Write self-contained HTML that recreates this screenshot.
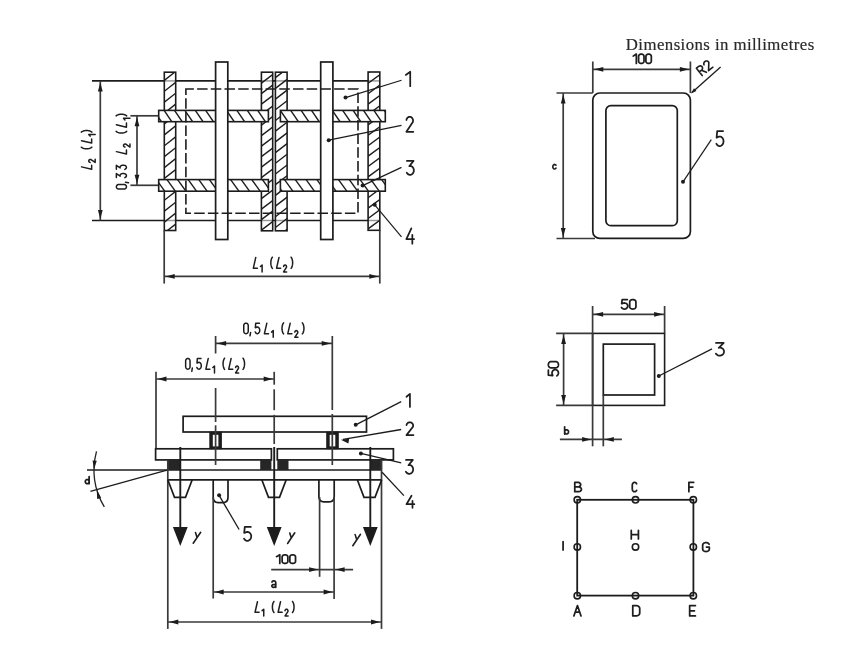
<!DOCTYPE html>
<html><head><meta charset="utf-8"><style>html,body{margin:0;padding:0;background:#fff;width:863px;height:645px;overflow:hidden}svg{display:block;filter:blur(0.45px)}</style></head>
<body><svg width="863" height="645" viewBox="0 0 863 645"><defs><clipPath id="p1"><rect x="164.3" y="72.2" width="11.399999999999977" height="158.3"/></clipPath><clipPath id="p2"><rect x="261.4" y="72.2" width="11.300000000000011" height="158.60000000000002"/></clipPath><clipPath id="p3"><rect x="275.4" y="72.2" width="11.700000000000045" height="158.60000000000002"/></clipPath><clipPath id="p4"><rect x="368.1" y="72" width="11.699999999999989" height="158.3"/></clipPath><clipPath id="blu"><rect x="158.7" y="110.4" width="109.69999999999999" height="11.299999999999997"/></clipPath><clipPath id="bru"><rect x="280.4" y="110.4" width="104.90000000000003" height="11.299999999999997"/></clipPath><clipPath id="bll"><rect x="158.7" y="179.6" width="109.69999999999999" height="11.599999999999994"/></clipPath><clipPath id="brl"><rect x="280.4" y="179.6" width="104.90000000000003" height="11.599999999999994"/></clipPath></defs><rect width="863" height="645" fill="#fff"/><line x1="92.00" y1="80.90" x2="368.00" y2="80.90" stroke="#1c1c1c" stroke-width="1.7" />
<line x1="92.00" y1="220.50" x2="368.00" y2="220.50" stroke="#1c1c1c" stroke-width="1.7" />
<rect x="164.3" y="72.2" width="11.399999999999977" height="158.3" fill="#fff"/>
<g clip-path="url(#p1)">
<line x1="164.30" y1="47.70" x2="175.70" y2="38.70" stroke="#1c1c1c" stroke-width="1.4" />
<line x1="164.30" y1="58.60" x2="175.70" y2="49.60" stroke="#1c1c1c" stroke-width="1.4" />
<line x1="164.30" y1="69.50" x2="175.70" y2="60.50" stroke="#1c1c1c" stroke-width="1.4" />
<line x1="164.30" y1="80.40" x2="175.70" y2="71.40" stroke="#1c1c1c" stroke-width="1.4" />
<line x1="164.30" y1="91.30" x2="175.70" y2="82.30" stroke="#1c1c1c" stroke-width="1.4" />
<line x1="164.30" y1="102.20" x2="175.70" y2="93.20" stroke="#1c1c1c" stroke-width="1.4" />
<line x1="164.30" y1="113.10" x2="175.70" y2="104.10" stroke="#1c1c1c" stroke-width="1.4" />
<line x1="164.30" y1="124.00" x2="175.70" y2="115.00" stroke="#1c1c1c" stroke-width="1.4" />
<line x1="164.30" y1="134.90" x2="175.70" y2="125.90" stroke="#1c1c1c" stroke-width="1.4" />
<line x1="164.30" y1="145.80" x2="175.70" y2="136.80" stroke="#1c1c1c" stroke-width="1.4" />
<line x1="164.30" y1="156.70" x2="175.70" y2="147.70" stroke="#1c1c1c" stroke-width="1.4" />
<line x1="164.30" y1="167.60" x2="175.70" y2="158.60" stroke="#1c1c1c" stroke-width="1.4" />
<line x1="164.30" y1="178.50" x2="175.70" y2="169.50" stroke="#1c1c1c" stroke-width="1.4" />
<line x1="164.30" y1="189.40" x2="175.70" y2="180.40" stroke="#1c1c1c" stroke-width="1.4" />
<line x1="164.30" y1="200.30" x2="175.70" y2="191.30" stroke="#1c1c1c" stroke-width="1.4" />
<line x1="164.30" y1="211.20" x2="175.70" y2="202.20" stroke="#1c1c1c" stroke-width="1.4" />
<line x1="164.30" y1="222.10" x2="175.70" y2="213.10" stroke="#1c1c1c" stroke-width="1.4" />
<line x1="164.30" y1="233.00" x2="175.70" y2="224.00" stroke="#1c1c1c" stroke-width="1.4" />
<line x1="164.30" y1="243.90" x2="175.70" y2="234.90" stroke="#1c1c1c" stroke-width="1.4" />
</g>
<rect x="164.30" y="72.20" width="11.40" height="158.30" rx="0" fill="none" stroke="#1c1c1c" stroke-width="1.6" />
<rect x="261.4" y="72.2" width="11.300000000000011" height="158.60000000000002" fill="#fff"/>
<g clip-path="url(#p2)">
<line x1="261.40" y1="41.20" x2="272.70" y2="32.60" stroke="#1c1c1c" stroke-width="1.4" />
<line x1="261.40" y1="51.70" x2="272.70" y2="43.10" stroke="#1c1c1c" stroke-width="1.4" />
<line x1="261.40" y1="62.20" x2="272.70" y2="53.60" stroke="#1c1c1c" stroke-width="1.4" />
<line x1="261.40" y1="72.70" x2="272.70" y2="64.10" stroke="#1c1c1c" stroke-width="1.4" />
<line x1="261.40" y1="83.20" x2="272.70" y2="74.60" stroke="#1c1c1c" stroke-width="1.4" />
<line x1="261.40" y1="93.70" x2="272.70" y2="85.10" stroke="#1c1c1c" stroke-width="1.4" />
<line x1="261.40" y1="104.20" x2="272.70" y2="95.60" stroke="#1c1c1c" stroke-width="1.4" />
<line x1="261.40" y1="114.70" x2="272.70" y2="106.10" stroke="#1c1c1c" stroke-width="1.4" />
<line x1="261.40" y1="125.20" x2="272.70" y2="116.60" stroke="#1c1c1c" stroke-width="1.4" />
<line x1="261.40" y1="135.70" x2="272.70" y2="127.10" stroke="#1c1c1c" stroke-width="1.4" />
<line x1="261.40" y1="146.20" x2="272.70" y2="137.60" stroke="#1c1c1c" stroke-width="1.4" />
<line x1="261.40" y1="156.70" x2="272.70" y2="148.10" stroke="#1c1c1c" stroke-width="1.4" />
<line x1="261.40" y1="167.20" x2="272.70" y2="158.60" stroke="#1c1c1c" stroke-width="1.4" />
<line x1="261.40" y1="177.70" x2="272.70" y2="169.10" stroke="#1c1c1c" stroke-width="1.4" />
<line x1="261.40" y1="188.20" x2="272.70" y2="179.60" stroke="#1c1c1c" stroke-width="1.4" />
<line x1="261.40" y1="198.70" x2="272.70" y2="190.10" stroke="#1c1c1c" stroke-width="1.4" />
<line x1="261.40" y1="209.20" x2="272.70" y2="200.60" stroke="#1c1c1c" stroke-width="1.4" />
<line x1="261.40" y1="219.70" x2="272.70" y2="211.10" stroke="#1c1c1c" stroke-width="1.4" />
<line x1="261.40" y1="230.20" x2="272.70" y2="221.60" stroke="#1c1c1c" stroke-width="1.4" />
<line x1="261.40" y1="240.70" x2="272.70" y2="232.10" stroke="#1c1c1c" stroke-width="1.4" />
<line x1="261.40" y1="251.20" x2="272.70" y2="242.60" stroke="#1c1c1c" stroke-width="1.4" />
</g>
<rect x="261.40" y="72.20" width="11.30" height="158.60" rx="0" fill="none" stroke="#1c1c1c" stroke-width="1.6" />
<rect x="275.4" y="72.2" width="11.700000000000045" height="158.60000000000002" fill="#fff"/>
<g clip-path="url(#p3)">
<line x1="275.40" y1="45.60" x2="287.10" y2="36.60" stroke="#1c1c1c" stroke-width="1.4" />
<line x1="275.40" y1="56.30" x2="287.10" y2="47.30" stroke="#1c1c1c" stroke-width="1.4" />
<line x1="275.40" y1="67.00" x2="287.10" y2="58.00" stroke="#1c1c1c" stroke-width="1.4" />
<line x1="275.40" y1="77.70" x2="287.10" y2="68.70" stroke="#1c1c1c" stroke-width="1.4" />
<line x1="275.40" y1="88.40" x2="287.10" y2="79.40" stroke="#1c1c1c" stroke-width="1.4" />
<line x1="275.40" y1="99.10" x2="287.10" y2="90.10" stroke="#1c1c1c" stroke-width="1.4" />
<line x1="275.40" y1="109.80" x2="287.10" y2="100.80" stroke="#1c1c1c" stroke-width="1.4" />
<line x1="275.40" y1="120.50" x2="287.10" y2="111.50" stroke="#1c1c1c" stroke-width="1.4" />
<line x1="275.40" y1="131.20" x2="287.10" y2="122.20" stroke="#1c1c1c" stroke-width="1.4" />
<line x1="275.40" y1="141.90" x2="287.10" y2="132.90" stroke="#1c1c1c" stroke-width="1.4" />
<line x1="275.40" y1="152.60" x2="287.10" y2="143.60" stroke="#1c1c1c" stroke-width="1.4" />
<line x1="275.40" y1="163.30" x2="287.10" y2="154.30" stroke="#1c1c1c" stroke-width="1.4" />
<line x1="275.40" y1="174.00" x2="287.10" y2="165.00" stroke="#1c1c1c" stroke-width="1.4" />
<line x1="275.40" y1="184.70" x2="287.10" y2="175.70" stroke="#1c1c1c" stroke-width="1.4" />
<line x1="275.40" y1="195.40" x2="287.10" y2="186.40" stroke="#1c1c1c" stroke-width="1.4" />
<line x1="275.40" y1="206.10" x2="287.10" y2="197.10" stroke="#1c1c1c" stroke-width="1.4" />
<line x1="275.40" y1="216.80" x2="287.10" y2="207.80" stroke="#1c1c1c" stroke-width="1.4" />
<line x1="275.40" y1="227.50" x2="287.10" y2="218.50" stroke="#1c1c1c" stroke-width="1.4" />
<line x1="275.40" y1="238.20" x2="287.10" y2="229.20" stroke="#1c1c1c" stroke-width="1.4" />
<line x1="275.40" y1="248.90" x2="287.10" y2="239.90" stroke="#1c1c1c" stroke-width="1.4" />
</g>
<rect x="275.40" y="72.20" width="11.70" height="158.60" rx="0" fill="none" stroke="#1c1c1c" stroke-width="1.6" />
<rect x="368.1" y="72" width="11.699999999999989" height="158.3" fill="#fff"/>
<g clip-path="url(#p4)">
<line x1="368.10" y1="41.70" x2="379.80" y2="33.10" stroke="#1c1c1c" stroke-width="1.4" />
<line x1="368.10" y1="52.10" x2="379.80" y2="43.50" stroke="#1c1c1c" stroke-width="1.4" />
<line x1="368.10" y1="62.50" x2="379.80" y2="53.90" stroke="#1c1c1c" stroke-width="1.4" />
<line x1="368.10" y1="72.90" x2="379.80" y2="64.30" stroke="#1c1c1c" stroke-width="1.4" />
<line x1="368.10" y1="83.30" x2="379.80" y2="74.70" stroke="#1c1c1c" stroke-width="1.4" />
<line x1="368.10" y1="93.70" x2="379.80" y2="85.10" stroke="#1c1c1c" stroke-width="1.4" />
<line x1="368.10" y1="104.10" x2="379.80" y2="95.50" stroke="#1c1c1c" stroke-width="1.4" />
<line x1="368.10" y1="114.50" x2="379.80" y2="105.90" stroke="#1c1c1c" stroke-width="1.4" />
<line x1="368.10" y1="124.90" x2="379.80" y2="116.30" stroke="#1c1c1c" stroke-width="1.4" />
<line x1="368.10" y1="135.30" x2="379.80" y2="126.70" stroke="#1c1c1c" stroke-width="1.4" />
<line x1="368.10" y1="145.70" x2="379.80" y2="137.10" stroke="#1c1c1c" stroke-width="1.4" />
<line x1="368.10" y1="156.10" x2="379.80" y2="147.50" stroke="#1c1c1c" stroke-width="1.4" />
<line x1="368.10" y1="166.50" x2="379.80" y2="157.90" stroke="#1c1c1c" stroke-width="1.4" />
<line x1="368.10" y1="176.90" x2="379.80" y2="168.30" stroke="#1c1c1c" stroke-width="1.4" />
<line x1="368.10" y1="187.30" x2="379.80" y2="178.70" stroke="#1c1c1c" stroke-width="1.4" />
<line x1="368.10" y1="197.70" x2="379.80" y2="189.10" stroke="#1c1c1c" stroke-width="1.4" />
<line x1="368.10" y1="208.10" x2="379.80" y2="199.50" stroke="#1c1c1c" stroke-width="1.4" />
<line x1="368.10" y1="218.50" x2="379.80" y2="209.90" stroke="#1c1c1c" stroke-width="1.4" />
<line x1="368.10" y1="228.90" x2="379.80" y2="220.30" stroke="#1c1c1c" stroke-width="1.4" />
<line x1="368.10" y1="239.30" x2="379.80" y2="230.70" stroke="#1c1c1c" stroke-width="1.4" />
<line x1="368.10" y1="249.70" x2="379.80" y2="241.10" stroke="#1c1c1c" stroke-width="1.4" />
</g>
<rect x="368.10" y="72.00" width="11.70" height="158.30" rx="0" fill="none" stroke="#1c1c1c" stroke-width="1.6" />
<rect x="158.7" y="110.4" width="109.69999999999999" height="11.299999999999997" fill="#fff"/>
<g clip-path="url(#blu)">
<line x1="132.90" y1="110.40" x2="140.60" y2="121.70" stroke="#1c1c1c" stroke-width="1.4" />
<line x1="143.30" y1="110.40" x2="151.00" y2="121.70" stroke="#1c1c1c" stroke-width="1.4" />
<line x1="153.70" y1="110.40" x2="161.40" y2="121.70" stroke="#1c1c1c" stroke-width="1.4" />
<line x1="164.10" y1="110.40" x2="171.80" y2="121.70" stroke="#1c1c1c" stroke-width="1.4" />
<line x1="174.50" y1="110.40" x2="182.20" y2="121.70" stroke="#1c1c1c" stroke-width="1.4" />
<line x1="184.90" y1="110.40" x2="192.60" y2="121.70" stroke="#1c1c1c" stroke-width="1.4" />
<line x1="195.30" y1="110.40" x2="203.00" y2="121.70" stroke="#1c1c1c" stroke-width="1.4" />
<line x1="205.70" y1="110.40" x2="213.40" y2="121.70" stroke="#1c1c1c" stroke-width="1.4" />
<line x1="216.10" y1="110.40" x2="223.80" y2="121.70" stroke="#1c1c1c" stroke-width="1.4" />
<line x1="226.50" y1="110.40" x2="234.20" y2="121.70" stroke="#1c1c1c" stroke-width="1.4" />
<line x1="236.90" y1="110.40" x2="244.60" y2="121.70" stroke="#1c1c1c" stroke-width="1.4" />
<line x1="247.30" y1="110.40" x2="255.00" y2="121.70" stroke="#1c1c1c" stroke-width="1.4" />
<line x1="257.70" y1="110.40" x2="265.40" y2="121.70" stroke="#1c1c1c" stroke-width="1.4" />
<line x1="268.10" y1="110.40" x2="275.80" y2="121.70" stroke="#1c1c1c" stroke-width="1.4" />
<line x1="278.50" y1="110.40" x2="286.20" y2="121.70" stroke="#1c1c1c" stroke-width="1.4" />
</g>
<rect x="158.70" y="110.40" width="109.70" height="11.30" rx="0" fill="none" stroke="#1c1c1c" stroke-width="1.6" />
<rect x="280.4" y="110.4" width="104.90000000000003" height="11.299999999999997" fill="#fff"/>
<g clip-path="url(#bru)">
<line x1="259.50" y1="110.40" x2="267.20" y2="121.70" stroke="#1c1c1c" stroke-width="1.4" />
<line x1="269.90" y1="110.40" x2="277.60" y2="121.70" stroke="#1c1c1c" stroke-width="1.4" />
<line x1="280.30" y1="110.40" x2="288.00" y2="121.70" stroke="#1c1c1c" stroke-width="1.4" />
<line x1="290.70" y1="110.40" x2="298.40" y2="121.70" stroke="#1c1c1c" stroke-width="1.4" />
<line x1="301.10" y1="110.40" x2="308.80" y2="121.70" stroke="#1c1c1c" stroke-width="1.4" />
<line x1="311.50" y1="110.40" x2="319.20" y2="121.70" stroke="#1c1c1c" stroke-width="1.4" />
<line x1="321.90" y1="110.40" x2="329.60" y2="121.70" stroke="#1c1c1c" stroke-width="1.4" />
<line x1="332.30" y1="110.40" x2="340.00" y2="121.70" stroke="#1c1c1c" stroke-width="1.4" />
<line x1="342.70" y1="110.40" x2="350.40" y2="121.70" stroke="#1c1c1c" stroke-width="1.4" />
<line x1="353.10" y1="110.40" x2="360.80" y2="121.70" stroke="#1c1c1c" stroke-width="1.4" />
<line x1="363.50" y1="110.40" x2="371.20" y2="121.70" stroke="#1c1c1c" stroke-width="1.4" />
<line x1="373.90" y1="110.40" x2="381.60" y2="121.70" stroke="#1c1c1c" stroke-width="1.4" />
<line x1="384.30" y1="110.40" x2="392.00" y2="121.70" stroke="#1c1c1c" stroke-width="1.4" />
<line x1="394.70" y1="110.40" x2="402.40" y2="121.70" stroke="#1c1c1c" stroke-width="1.4" />
</g>
<rect x="280.40" y="110.40" width="104.90" height="11.30" rx="0" fill="none" stroke="#1c1c1c" stroke-width="1.6" />
<rect x="158.7" y="179.6" width="109.69999999999999" height="11.599999999999994" fill="#fff"/>
<g clip-path="url(#bll)">
<line x1="135.20" y1="179.60" x2="143.50" y2="191.20" stroke="#1c1c1c" stroke-width="1.4" />
<line x1="145.80" y1="179.60" x2="154.10" y2="191.20" stroke="#1c1c1c" stroke-width="1.4" />
<line x1="156.40" y1="179.60" x2="164.70" y2="191.20" stroke="#1c1c1c" stroke-width="1.4" />
<line x1="167.00" y1="179.60" x2="175.30" y2="191.20" stroke="#1c1c1c" stroke-width="1.4" />
<line x1="177.60" y1="179.60" x2="185.90" y2="191.20" stroke="#1c1c1c" stroke-width="1.4" />
<line x1="188.20" y1="179.60" x2="196.50" y2="191.20" stroke="#1c1c1c" stroke-width="1.4" />
<line x1="198.80" y1="179.60" x2="207.10" y2="191.20" stroke="#1c1c1c" stroke-width="1.4" />
<line x1="209.40" y1="179.60" x2="217.70" y2="191.20" stroke="#1c1c1c" stroke-width="1.4" />
<line x1="220.00" y1="179.60" x2="228.30" y2="191.20" stroke="#1c1c1c" stroke-width="1.4" />
<line x1="230.60" y1="179.60" x2="238.90" y2="191.20" stroke="#1c1c1c" stroke-width="1.4" />
<line x1="241.20" y1="179.60" x2="249.50" y2="191.20" stroke="#1c1c1c" stroke-width="1.4" />
<line x1="251.80" y1="179.60" x2="260.10" y2="191.20" stroke="#1c1c1c" stroke-width="1.4" />
<line x1="262.40" y1="179.60" x2="270.70" y2="191.20" stroke="#1c1c1c" stroke-width="1.4" />
<line x1="273.00" y1="179.60" x2="281.30" y2="191.20" stroke="#1c1c1c" stroke-width="1.4" />
</g>
<rect x="158.70" y="179.60" width="109.70" height="11.60" rx="0" fill="none" stroke="#1c1c1c" stroke-width="1.6" />
<rect x="280.4" y="179.6" width="104.90000000000003" height="11.599999999999994" fill="#fff"/>
<g clip-path="url(#brl)">
<line x1="252.10" y1="179.60" x2="260.40" y2="191.20" stroke="#1c1c1c" stroke-width="1.4" />
<line x1="262.90" y1="179.60" x2="271.20" y2="191.20" stroke="#1c1c1c" stroke-width="1.4" />
<line x1="273.70" y1="179.60" x2="282.00" y2="191.20" stroke="#1c1c1c" stroke-width="1.4" />
<line x1="284.50" y1="179.60" x2="292.80" y2="191.20" stroke="#1c1c1c" stroke-width="1.4" />
<line x1="295.30" y1="179.60" x2="303.60" y2="191.20" stroke="#1c1c1c" stroke-width="1.4" />
<line x1="306.10" y1="179.60" x2="314.40" y2="191.20" stroke="#1c1c1c" stroke-width="1.4" />
<line x1="316.90" y1="179.60" x2="325.20" y2="191.20" stroke="#1c1c1c" stroke-width="1.4" />
<line x1="327.70" y1="179.60" x2="336.00" y2="191.20" stroke="#1c1c1c" stroke-width="1.4" />
<line x1="338.50" y1="179.60" x2="346.80" y2="191.20" stroke="#1c1c1c" stroke-width="1.4" />
<line x1="349.30" y1="179.60" x2="357.60" y2="191.20" stroke="#1c1c1c" stroke-width="1.4" />
<line x1="360.10" y1="179.60" x2="368.40" y2="191.20" stroke="#1c1c1c" stroke-width="1.4" />
<line x1="370.90" y1="179.60" x2="379.20" y2="191.20" stroke="#1c1c1c" stroke-width="1.4" />
<line x1="381.70" y1="179.60" x2="390.00" y2="191.20" stroke="#1c1c1c" stroke-width="1.4" />
<line x1="392.50" y1="179.60" x2="400.80" y2="191.20" stroke="#1c1c1c" stroke-width="1.4" />
</g>
<rect x="280.40" y="179.60" width="104.90" height="11.60" rx="0" fill="none" stroke="#1c1c1c" stroke-width="1.6" />
<line x1="164.30" y1="80.90" x2="176.00" y2="80.90" stroke="#1c1c1c" stroke-width="1.5" opacity="0.45"/>
<line x1="164.30" y1="220.50" x2="176.00" y2="220.50" stroke="#1c1c1c" stroke-width="1.5" opacity="0.45"/>
<line x1="261.60" y1="80.90" x2="272.70" y2="80.90" stroke="#1c1c1c" stroke-width="1.5" opacity="0.45"/>
<line x1="261.60" y1="220.50" x2="272.70" y2="220.50" stroke="#1c1c1c" stroke-width="1.5" opacity="0.45"/>
<line x1="275.20" y1="80.90" x2="287.20" y2="80.90" stroke="#1c1c1c" stroke-width="1.5" opacity="0.45"/>
<line x1="275.20" y1="220.50" x2="287.20" y2="220.50" stroke="#1c1c1c" stroke-width="1.5" opacity="0.45"/>
<line x1="368.00" y1="80.90" x2="380.00" y2="80.90" stroke="#1c1c1c" stroke-width="1.5" opacity="0.45"/>
<line x1="368.00" y1="220.50" x2="380.00" y2="220.50" stroke="#1c1c1c" stroke-width="1.5" opacity="0.45"/>
<rect x="215.60" y="62.00" width="12.20" height="177.50" rx="0" fill="#fff" stroke="#1c1c1c" stroke-width="1.7" />
<rect x="320.70" y="62.00" width="12.20" height="177.50" rx="0" fill="#fff" stroke="#1c1c1c" stroke-width="1.7" />
<rect x="185.9" y="89" width="172.1" height="124.19999999999999" fill="none" stroke="#1c1c1c" stroke-width="1.6" stroke-dasharray="10.5 3.2" stroke-dashoffset="2.5"/>
<line x1="100.30" y1="81.00" x2="100.30" y2="220.50" stroke="#3a3a3a" stroke-width="1.7" />
<polygon points="100.30,82.50 102.70,91.50 97.90,91.50" fill="#1c1c1c" stroke="none" stroke-width="0"/>
<polygon points="100.30,219.00 97.90,210.00 102.70,210.00" fill="#1c1c1c" stroke="none" stroke-width="0"/>
<line x1="137.00" y1="115.80" x2="137.00" y2="185.30" stroke="#3a3a3a" stroke-width="1.7" />
<polygon points="137.00,117.20 139.40,126.20 134.60,126.20" fill="#1c1c1c" stroke="none" stroke-width="0"/>
<polygon points="137.00,183.80 134.60,174.80 139.40,174.80" fill="#1c1c1c" stroke="none" stroke-width="0"/>
<line x1="130.40" y1="115.80" x2="158.00" y2="115.80" stroke="#3a3a3a" stroke-width="1.7" />
<line x1="130.40" y1="185.30" x2="158.00" y2="185.30" stroke="#3a3a3a" stroke-width="1.7" />
<line x1="164.20" y1="230.50" x2="164.20" y2="283.60" stroke="#3a3a3a" stroke-width="1.7" />
<line x1="379.80" y1="230.30" x2="379.80" y2="283.60" stroke="#3a3a3a" stroke-width="1.7" />
<line x1="164.20" y1="276.40" x2="379.80" y2="276.40" stroke="#3a3a3a" stroke-width="1.7" />
<polygon points="165.70,276.40 174.70,274.00 174.70,278.80" fill="#1c1c1c" stroke="none" stroke-width="0"/>
<polygon points="378.30,276.40 369.30,278.80 369.30,274.00" fill="#1c1c1c" stroke="none" stroke-width="0"/>
<line x1="345.50" y1="97.60" x2="401.50" y2="80.30" stroke="#1c1c1c" stroke-width="1.2" />
<circle cx="345.5" cy="97.6" r="2.0" fill="#1c1c1c"/>
<line x1="328.70" y1="140.20" x2="401.50" y2="125.30" stroke="#1c1c1c" stroke-width="1.2" />
<circle cx="328.7" cy="140.2" r="2.0" fill="#1c1c1c"/>
<line x1="362.60" y1="185.60" x2="401.50" y2="167.40" stroke="#1c1c1c" stroke-width="1.2" />
<circle cx="362.6" cy="185.6" r="2.0" fill="#1c1c1c"/>
<line x1="374.70" y1="204.80" x2="401.50" y2="236.90" stroke="#1c1c1c" stroke-width="1.2" />
<circle cx="374.7" cy="204.8" r="2.0" fill="#1c1c1c"/>
<line x1="215.60" y1="343.40" x2="332.20" y2="343.40" stroke="#3a3a3a" stroke-width="1.7" />
<polygon points="217.10,343.40 226.10,341.00 226.10,345.80" fill="#1c1c1c" stroke="none" stroke-width="0"/>
<polygon points="330.70,343.40 321.70,345.80 321.70,341.00" fill="#1c1c1c" stroke="none" stroke-width="0"/>
<line x1="156.00" y1="379.00" x2="274.20" y2="379.00" stroke="#3a3a3a" stroke-width="1.7" />
<polygon points="157.50,379.00 166.50,376.60 166.50,381.40" fill="#1c1c1c" stroke="none" stroke-width="0"/>
<polygon points="272.70,379.00 263.70,381.40 263.70,376.60" fill="#1c1c1c" stroke="none" stroke-width="0"/>
<line x1="156.00" y1="371.70" x2="156.00" y2="449.00" stroke="#3a3a3a" stroke-width="1.7" />
<line x1="215.60" y1="336.00" x2="215.60" y2="353.50" stroke="#3a3a3a" stroke-width="1.7" />
<line x1="332.30" y1="336.00" x2="332.30" y2="410.00" stroke="#3a3a3a" stroke-width="1.7" />
<line x1="274.20" y1="371.80" x2="274.20" y2="384.70" stroke="#3a3a3a" stroke-width="1.7" />
<rect x="183.10" y="416.30" width="183.40" height="15.70" rx="0" fill="none" stroke="#1c1c1c" stroke-width="1.7" />
<rect x="155.60" y="448.80" width="115.80" height="11.10" rx="0" fill="none" stroke="#1c1c1c" stroke-width="1.7" />
<rect x="277.30" y="448.80" width="116.10" height="11.10" rx="0" fill="none" stroke="#1c1c1c" stroke-width="1.7" />
<line x1="87.00" y1="470.00" x2="382.00" y2="470.00" stroke="#1c1c1c" stroke-width="1.7" />
<line x1="167.80" y1="479.80" x2="382.00" y2="479.80" stroke="#1c1c1c" stroke-width="1.7" />
<rect x="167.8" y="459.9" width="12.5" height="10.1" fill="#262626"/>
<rect x="260.2" y="459.9" width="11.199999999999989" height="10.1" fill="#262626"/>
<rect x="277.3" y="459.9" width="11.199999999999989" height="10.1" fill="#262626"/>
<rect x="370.3" y="459.9" width="11.800000000000011" height="10.1" fill="#262626"/>
<rect x="209.3" y="431.7" width="12.6" height="17.5" fill="#1c1c1c"/>
<rect x="212.8" y="434.8" width="5.6" height="11.6" fill="#fff"/>
<rect x="326.2" y="431.7" width="12.6" height="17.5" fill="#1c1c1c"/>
<rect x="329.7" y="434.8" width="5.6" height="11.6" fill="#fff"/>
<line x1="215.60" y1="388.00" x2="215.60" y2="422.00" stroke="#3a3a3a" stroke-width="1.7" />
<line x1="215.60" y1="425.30" x2="215.60" y2="465.00" stroke="#3a3a3a" stroke-width="1.7" />
<line x1="332.30" y1="414.00" x2="332.30" y2="465.00" stroke="#3a3a3a" stroke-width="1.7" />
<line x1="274.20" y1="389.30" x2="274.20" y2="410.20" stroke="#3a3a3a" stroke-width="1.7" />
<line x1="274.20" y1="414.90" x2="274.20" y2="444.00" stroke="#3a3a3a" stroke-width="1.7" />
<line x1="167.80" y1="459.90" x2="167.80" y2="628.90" stroke="#3a3a3a" stroke-width="1.7" />
<line x1="381.50" y1="459.90" x2="381.50" y2="628.90" stroke="#3a3a3a" stroke-width="1.7" />
<line x1="180.30" y1="447.00" x2="180.30" y2="528.00" stroke="#1c1c1c" stroke-width="1.9" />
<polygon points="172.90,527.00 187.70,527.00 180.30,546.00" fill="#1c1c1c" stroke="none" stroke-width="0"/>
<line x1="274.20" y1="447.00" x2="274.20" y2="528.00" stroke="#1c1c1c" stroke-width="1.9" />
<polygon points="266.80,527.00 281.60,527.00 274.20,546.00" fill="#1c1c1c" stroke="none" stroke-width="0"/>
<line x1="370.30" y1="447.00" x2="370.30" y2="528.00" stroke="#1c1c1c" stroke-width="1.9" />
<polygon points="362.90,527.00 377.70,527.00 370.30,546.00" fill="#1c1c1c" stroke="none" stroke-width="0"/>
<polyline points="167.8,479.8 174.5,497.4 185.5,497.4 192.2,479.8" fill="none" stroke="#1c1c1c" stroke-width="1.7"/>
<polyline points="261.8,479.8 268.5,497.4 279.5,497.4 286.2,479.8" fill="none" stroke="#1c1c1c" stroke-width="1.7"/>
<polyline points="357.3,479.8 364.0,497.4 375.0,497.4 381.7,479.8" fill="none" stroke="#1c1c1c" stroke-width="1.7"/>
<path d="M213.2,479.8 V497.6 Q213.2,502.6 218.2,502.6 H223 Q228,502.6 228,497.6 V479.8" fill="none" stroke="#1c1c1c" stroke-width="1.7"/>
<path d="M318.9,479.8 V496.8 Q318.9,501.8 323.9,501.8 H329.2 Q334.2,501.8 334.2,496.8 V479.8" fill="none" stroke="#1c1c1c" stroke-width="1.7"/>
<line x1="213.20" y1="497.00" x2="213.20" y2="598.50" stroke="#3a3a3a" stroke-width="1.7" />
<line x1="319.60" y1="497.00" x2="319.60" y2="576.80" stroke="#3a3a3a" stroke-width="1.7" />
<line x1="334.10" y1="497.00" x2="334.10" y2="599.00" stroke="#3a3a3a" stroke-width="1.7" />
<line x1="271.20" y1="569.60" x2="353.10" y2="569.60" stroke="#3a3a3a" stroke-width="1.7" />
<polygon points="318.10,569.60 309.10,572.00 309.10,567.20" fill="#1c1c1c" stroke="none" stroke-width="0"/>
<polygon points="335.60,569.60 344.60,567.20 344.60,572.00" fill="#1c1c1c" stroke="none" stroke-width="0"/>
<line x1="213.20" y1="592.00" x2="334.10" y2="592.00" stroke="#3a3a3a" stroke-width="1.7" />
<polygon points="214.70,592.00 223.70,589.60 223.70,594.40" fill="#1c1c1c" stroke="none" stroke-width="0"/>
<polygon points="332.60,592.00 323.60,594.40 323.60,589.60" fill="#1c1c1c" stroke="none" stroke-width="0"/>
<line x1="167.80" y1="622.00" x2="381.50" y2="622.00" stroke="#3a3a3a" stroke-width="1.7" />
<polygon points="169.30,622.00 178.30,619.60 178.30,624.40" fill="#1c1c1c" stroke="none" stroke-width="0"/>
<polygon points="380.00,622.00 371.00,624.40 371.00,619.60" fill="#1c1c1c" stroke="none" stroke-width="0"/>
<line x1="90.40" y1="491.30" x2="167.00" y2="470.20" stroke="#1c1c1c" stroke-width="1.3" />
<path d="M96.5,451.3 A73,73 0 0 0 104.3,506.9" fill="none" stroke="#222" stroke-width="1.3"/>
<polygon points="94.10,469.50 92.54,460.39 96.74,460.64" fill="#1c1c1c" stroke="none" stroke-width="0"/>
<polygon points="96.80,489.80 101.22,497.92 97.17,499.03" fill="#1c1c1c" stroke="none" stroke-width="0"/>
<line x1="355.70" y1="424.80" x2="401.20" y2="401.70" stroke="#1c1c1c" stroke-width="1.3" />
<circle cx="355.7" cy="424.8" r="2.0" fill="#1c1c1c"/>
<line x1="343.00" y1="439.40" x2="401.20" y2="429.50" stroke="#1c1c1c" stroke-width="1.3" />
<polygon points="340.90,439.70 349.19,438.69 348.38,443.42" fill="#1c1c1c" stroke="none" stroke-width="0"/>
<line x1="360.90" y1="453.40" x2="401.20" y2="462.80" stroke="#1c1c1c" stroke-width="1.3" />
<circle cx="360.9" cy="453.4" r="2.0" fill="#1c1c1c"/>
<line x1="382.10" y1="472.20" x2="403.90" y2="495.60" stroke="#1c1c1c" stroke-width="1.3" />
<line x1="219.10" y1="495.30" x2="239.10" y2="529.50" stroke="#1c1c1c" stroke-width="1.3" />
<circle cx="219.1" cy="495.3" r="2.0" fill="#1c1c1c"/>
<rect x="592.80" y="93.00" width="97.60" height="145.40" rx="7" fill="none" stroke="#1c1c1c" stroke-width="1.7" />
<rect x="605.90" y="105.60" width="71.40" height="120.10" rx="5" fill="none" stroke="#1c1c1c" stroke-width="1.7" />
<line x1="592.80" y1="61.50" x2="592.80" y2="93.00" stroke="#3a3a3a" stroke-width="1.7" />
<line x1="690.40" y1="61.50" x2="690.40" y2="93.00" stroke="#3a3a3a" stroke-width="1.7" />
<line x1="592.80" y1="69.30" x2="690.40" y2="69.30" stroke="#3a3a3a" stroke-width="1.7" />
<polygon points="594.30,69.30 603.30,66.90 603.30,71.70" fill="#1c1c1c" stroke="none" stroke-width="0"/>
<polygon points="688.90,69.30 679.90,71.70 679.90,66.90" fill="#1c1c1c" stroke="none" stroke-width="0"/>
<line x1="556.50" y1="93.00" x2="592.80" y2="93.00" stroke="#3a3a3a" stroke-width="1.7" />
<line x1="556.50" y1="238.50" x2="595.00" y2="238.50" stroke="#3a3a3a" stroke-width="1.7" />
<line x1="563.20" y1="93.00" x2="563.20" y2="238.50" stroke="#3a3a3a" stroke-width="1.7" />
<polygon points="563.20,94.50 565.60,103.50 560.80,103.50" fill="#1c1c1c" stroke="none" stroke-width="0"/>
<polygon points="563.20,237.00 560.80,228.00 565.60,228.00" fill="#1c1c1c" stroke="none" stroke-width="0"/>
<line x1="720.60" y1="67.00" x2="692.00" y2="92.60" stroke="#1c1c1c" stroke-width="1.3" />
<polygon points="690.80,93.60 694.05,88.24 696.46,90.92" fill="#1c1c1c" stroke="none" stroke-width="0"/>
<line x1="683.00" y1="181.80" x2="711.30" y2="139.60" stroke="#1c1c1c" stroke-width="1.2" />
<circle cx="683" cy="181.8" r="2.0" fill="#1c1c1c"/>
<rect x="592.60" y="333.40" width="72.00" height="72.00" rx="0" fill="none" stroke="#1c1c1c" stroke-width="1.6" />
<rect x="603.30" y="344.10" width="51.30" height="50.90" rx="0" fill="none" stroke="#1c1c1c" stroke-width="1.7" />
<line x1="592.60" y1="306.00" x2="592.60" y2="446.30" stroke="#3a3a3a" stroke-width="1.7" />
<line x1="664.60" y1="306.00" x2="664.60" y2="333.40" stroke="#3a3a3a" stroke-width="1.7" />
<line x1="592.60" y1="314.30" x2="664.60" y2="314.30" stroke="#3a3a3a" stroke-width="1.7" />
<polygon points="594.10,314.30 603.10,311.90 603.10,316.70" fill="#1c1c1c" stroke="none" stroke-width="0"/>
<polygon points="663.10,314.30 654.10,316.70 654.10,311.90" fill="#1c1c1c" stroke="none" stroke-width="0"/>
<line x1="556.10" y1="333.40" x2="592.60" y2="333.40" stroke="#3a3a3a" stroke-width="1.7" />
<line x1="556.10" y1="405.40" x2="592.60" y2="405.40" stroke="#3a3a3a" stroke-width="1.7" />
<line x1="563.60" y1="333.40" x2="563.60" y2="405.40" stroke="#3a3a3a" stroke-width="1.7" />
<polygon points="563.60,334.90 566.00,343.90 561.20,343.90" fill="#1c1c1c" stroke="none" stroke-width="0"/>
<polygon points="563.60,403.90 561.20,394.90 566.00,394.90" fill="#1c1c1c" stroke="none" stroke-width="0"/>
<line x1="603.30" y1="395.00" x2="603.30" y2="446.30" stroke="#3a3a3a" stroke-width="1.7" />
<line x1="559.90" y1="439.40" x2="621.90" y2="439.40" stroke="#3a3a3a" stroke-width="1.7" />
<polygon points="591.10,439.40 582.10,441.80 582.10,437.00" fill="#1c1c1c" stroke="none" stroke-width="0"/>
<polygon points="604.80,439.40 613.80,437.00 613.80,441.80" fill="#1c1c1c" stroke="none" stroke-width="0"/>
<line x1="712.00" y1="348.90" x2="658.80" y2="376.00" stroke="#1c1c1c" stroke-width="1.3" />
<circle cx="658.8" cy="376" r="2.0" fill="#1c1c1c"/>
<rect x="577.20" y="499.80" width="116.20" height="95.80" rx="0" fill="none" stroke="#1c1c1c" stroke-width="1.8" />
<circle cx="577.3" cy="499.8" r="3.2" fill="none" stroke="#1c1c1c" stroke-width="1.6"/>
<circle cx="635.5" cy="499.8" r="3.2" fill="none" stroke="#1c1c1c" stroke-width="1.6"/>
<circle cx="693.3" cy="499.8" r="3.2" fill="none" stroke="#1c1c1c" stroke-width="1.6"/>
<circle cx="577.3" cy="546.9" r="3.2" fill="none" stroke="#1c1c1c" stroke-width="1.6"/>
<circle cx="693.3" cy="546.9" r="3.2" fill="none" stroke="#1c1c1c" stroke-width="1.6"/>
<circle cx="577.3" cy="595.7" r="3.2" fill="none" stroke="#1c1c1c" stroke-width="1.6"/>
<circle cx="635.5" cy="595.7" r="3.2" fill="none" stroke="#1c1c1c" stroke-width="1.6"/>
<circle cx="693.3" cy="595.7" r="3.2" fill="none" stroke="#1c1c1c" stroke-width="1.6"/>
<circle cx="635.5" cy="546.9" r="3.2" fill="none" stroke="#1c1c1c" stroke-width="1.6"/>
<path d="M405.77,74.95 L410.23,71.78 L410.23,86.22" fill="none" stroke="#1e1e1e" stroke-width="1.75" stroke-linecap="round" stroke-linejoin="round" opacity="1.0"/>
<path d="M406.43,120.01 L406.65,119.12 L407.05,118.32 L407.60,117.66 L408.27,117.16 L409.01,116.86 L409.80,116.78 L410.58,116.91 L411.31,117.25 L411.96,117.79 L412.48,118.48 L412.84,119.30 L413.03,120.20 L413.04,121.13 L412.86,122.03 L406.38,131.82 L413.32,131.82" fill="none" stroke="#1e1e1e" stroke-width="1.75" stroke-linecap="round" stroke-linejoin="round" opacity="1.0"/>
<path d="M406.90,160.88 L413.54,160.88 L409.27,166.19 L409.73,165.93 L410.88,166.02 L411.96,166.51 L412.86,167.36 L413.50,168.50 L413.82,169.80 L413.80,171.16 L413.43,172.45 L412.75,173.55 L411.81,174.36 L410.72,174.80 L409.57,174.82 L408.46,174.44 L407.50,173.69 L406.77,172.63" fill="none" stroke="#1e1e1e" stroke-width="1.75" stroke-linecap="round" stroke-linejoin="round" opacity="1.0"/>
<path d="M411.36,228.38 L406.38,239.12 L414.12,239.12 M412.33,234.82 L412.33,243.72" fill="none" stroke="#1e1e1e" stroke-width="1.75" stroke-linecap="round" stroke-linejoin="round" opacity="1.0"/>
<path d="M406.48,396.75 L409.93,393.88 L409.93,406.93" fill="none" stroke="#1e1e1e" stroke-width="1.75" stroke-linecap="round" stroke-linejoin="round" opacity="1.0"/>
<path d="M406.53,425.04 L406.75,424.28 L407.15,423.60 L407.70,423.03 L408.37,422.60 L409.11,422.35 L409.90,422.27 L410.68,422.39 L411.41,422.68 L412.06,423.14 L412.58,423.73 L412.94,424.43 L413.13,425.20 L413.14,425.99 L412.96,426.76 L406.48,435.12 L413.43,435.12" fill="none" stroke="#1e1e1e" stroke-width="1.75" stroke-linecap="round" stroke-linejoin="round" opacity="1.0"/>
<path d="M406.00,459.88 L412.83,459.88 L408.44,465.19 L408.92,464.93 L410.10,465.02 L411.21,465.51 L412.13,466.36 L412.79,467.50 L413.12,468.80 L413.10,470.16 L412.72,471.45 L412.02,472.55 L411.06,473.36 L409.93,473.80 L408.75,473.82 L407.61,473.44 L406.62,472.69 L405.88,471.63" fill="none" stroke="#1e1e1e" stroke-width="1.75" stroke-linecap="round" stroke-linejoin="round" opacity="1.0"/>
<path d="M411.52,495.68 L406.48,504.18 L414.32,504.18 M412.50,500.78 L412.50,507.82" fill="none" stroke="#1e1e1e" stroke-width="1.75" stroke-linecap="round" stroke-linejoin="round" opacity="1.0"/>
<path d="M250.81,526.88 L244.80,526.88 L244.20,532.87 L245.12,532.70 L246.32,532.06 L247.65,531.91 L248.94,532.28 L250.04,533.13 L250.84,534.35 L251.22,535.81 L251.16,537.33 L250.66,538.74 L249.77,539.87 L248.60,540.59 L247.28,540.83 L245.97,540.54 L244.83,539.76 L243.97,538.59" fill="none" stroke="#1e1e1e" stroke-width="1.75" stroke-linecap="round" stroke-linejoin="round" opacity="1.0"/>
<path d="M723.11,131.07 L717.19,131.07 L716.60,137.55 L717.50,137.36 L718.69,136.67 L719.99,136.51 L721.27,136.91 L722.36,137.82 L723.14,139.14 L723.52,140.71 L723.46,142.35 L722.97,143.87 L722.09,145.09 L720.93,145.88 L719.64,146.12 L718.35,145.81 L717.22,144.98 L716.38,143.72" fill="none" stroke="#1e1e1e" stroke-width="1.75" stroke-linecap="round" stroke-linejoin="round" opacity="1.0"/>
<path d="M716.02,342.98 L723.70,342.98 L718.76,347.80 L719.29,347.56 L720.62,347.64 L721.87,348.09 L722.91,348.86 L723.65,349.89 L724.02,351.07 L724.00,352.31 L723.57,353.47 L722.78,354.47 L721.70,355.20 L720.44,355.60 L719.10,355.62 L717.82,355.28 L716.71,354.59 L715.88,353.63" fill="none" stroke="#1e1e1e" stroke-width="1.75" stroke-linecap="round" stroke-linejoin="round" opacity="1.0"/>
<path d="M255.77,257.45 L253.35,268.15 L257.44,268.15 M260.44,266.55 L262.11,265.05 L262.11,271.89 M272.40,257.17 L271.86,258.00 L271.42,259.01 L271.09,260.19 L270.89,261.47 L270.82,262.80 L270.89,264.13 L271.09,265.41 L271.42,266.59 L271.86,267.60 L272.40,268.43 M279.00,257.45 L276.59,268.15 L280.68,268.15 M283.58,266.52 L283.68,266.12 L283.86,265.75 L284.10,265.45 L284.40,265.22 L284.73,265.09 L285.08,265.05 L285.43,265.11 L285.75,265.26 L286.04,265.51 L286.27,265.82 L286.43,266.20 L286.52,266.61 L286.52,267.03 L286.44,267.44 L283.56,271.89 L286.65,271.89 M291.08,257.17 L291.61,258.00 L292.05,259.01 L292.38,260.19 L292.58,261.47 L292.65,262.80 L292.58,264.13 L292.38,265.41 L292.05,266.59 L291.61,267.60 L291.08,268.43" fill="none" stroke="#1e1e1e" stroke-width="1.50" stroke-linecap="round" stroke-linejoin="round" opacity="1.0"/>
<path d="M257.45,601.75 L255.05,612.25 L259.11,612.25 M262.09,610.68 L263.74,609.21 L263.74,615.92 M273.95,601.48 L273.42,602.29 L272.98,603.28 L272.66,604.44 L272.46,605.69 L272.39,607.00 L272.46,608.31 L272.66,609.56 L272.98,610.72 L273.42,611.71 L273.95,612.52 M280.51,601.75 L278.11,612.25 L282.17,612.25 M285.05,610.65 L285.15,610.25 L285.33,609.90 L285.57,609.60 L285.86,609.38 L286.19,609.24 L286.54,609.21 L286.88,609.26 L287.21,609.42 L287.49,609.66 L287.72,609.97 L287.88,610.33 L287.97,610.73 L287.97,611.15 L287.89,611.55 L285.03,615.92 L288.10,615.92 M292.49,601.48 L293.02,602.29 L293.46,603.28 L293.78,604.44 L293.98,605.69 L294.05,607.00 L293.98,608.31 L293.78,609.56 L293.46,610.72 L293.02,611.71 L292.49,612.52" fill="none" stroke="#1e1e1e" stroke-width="1.50" stroke-linecap="round" stroke-linejoin="round" opacity="1.0"/>
<path d="M243.75,325.67 L243.81,325.11 L243.97,324.58 L244.24,324.10 L244.59,323.70 L245.02,323.40 L245.49,323.21 L245.99,323.15 L246.49,323.21 L246.97,323.40 L247.39,323.70 L247.75,324.10 L248.02,324.58 L248.18,325.11 L248.24,325.67 L248.24,331.13 L248.18,331.69 L248.02,332.22 L247.75,332.70 L247.39,333.10 L246.97,333.40 L246.49,333.59 L245.99,333.65 L245.49,333.59 L245.02,333.40 L244.59,333.10 L244.24,332.70 L243.97,332.22 L243.81,331.69 L243.75,331.13 L243.75,325.67 M250.58,332.60 L250.01,335.75 M259.46,323.15 L255.72,323.15 L255.34,327.66 L255.91,327.54 L256.66,327.05 L257.49,326.94 L258.29,327.22 L258.98,327.86 L259.48,328.78 L259.72,329.87 L259.68,331.02 L259.37,332.08 L258.81,332.93 L258.08,333.48 L257.26,333.65 L256.45,333.43 L255.73,332.85 L255.20,331.97 M266.84,323.15 L264.41,333.65 L268.53,333.65 M271.55,332.08 L273.22,330.60 L273.22,337.32 M283.57,322.88 L283.04,323.69 L282.59,324.68 L282.26,325.84 L282.06,327.09 L281.99,328.40 L282.06,329.71 L282.26,330.96 L282.59,332.12 L283.04,333.11 L283.57,333.92 M290.22,323.15 L287.79,333.65 L291.90,333.65 M294.82,332.05 L294.93,331.65 L295.11,331.30 L295.35,331.00 L295.65,330.78 L295.98,330.64 L296.34,330.61 L296.69,330.66 L297.01,330.82 L297.30,331.06 L297.53,331.37 L297.70,331.73 L297.78,332.13 L297.78,332.55 L297.70,332.95 L294.80,337.32 L297.91,337.32 M302.37,322.88 L302.91,323.69 L303.35,324.68 L303.68,325.84 L303.88,327.09 L303.95,328.40 L303.88,329.71 L303.68,330.96 L303.35,332.12 L302.91,333.11 L302.37,333.92" fill="none" stroke="#1e1e1e" stroke-width="1.50" stroke-linecap="round" stroke-linejoin="round" opacity="1.0"/>
<path d="M185.65,361.02 L185.71,360.45 L185.87,359.90 L186.13,359.42 L186.48,359.01 L186.89,358.70 L187.36,358.51 L187.85,358.45 L188.33,358.51 L188.80,358.70 L189.21,359.01 L189.56,359.42 L189.82,359.90 L189.99,360.45 L190.04,361.02 L190.04,366.58 L189.99,367.15 L189.82,367.70 L189.56,368.18 L189.21,368.59 L188.80,368.90 L188.33,369.09 L187.85,369.15 L187.36,369.09 L186.89,368.90 L186.48,368.59 L186.13,368.18 L185.87,367.70 L185.71,367.15 L185.65,366.58 L185.65,361.02 M192.33,368.08 L191.78,371.29 M201.02,358.45 L197.36,358.45 L196.99,363.05 L197.55,362.92 L198.29,362.42 L199.09,362.31 L199.88,362.60 L200.55,363.25 L201.04,364.18 L201.28,365.30 L201.24,366.47 L200.93,367.55 L200.39,368.42 L199.67,368.97 L198.87,369.15 L198.07,368.93 L197.37,368.34 L196.86,367.44 M208.25,358.45 L205.87,369.15 L209.89,369.15 M212.85,367.55 L214.49,366.05 L214.49,372.89 M224.61,358.17 L224.09,359.00 L223.66,360.01 L223.33,361.19 L223.13,362.47 L223.07,363.80 L223.13,365.13 L223.33,366.41 L223.66,367.59 L224.09,368.60 L224.61,369.43 M231.12,358.45 L228.74,369.15 L232.76,369.15 M235.62,367.52 L235.72,367.12 L235.90,366.75 L236.14,366.45 L236.43,366.22 L236.76,366.09 L237.10,366.05 L237.44,366.11 L237.76,366.26 L238.05,366.51 L238.27,366.82 L238.43,367.20 L238.52,367.61 L238.52,368.03 L238.44,368.44 L235.60,372.89 L238.64,372.89 M243.00,358.17 L243.53,359.00 L243.96,360.01 L244.28,361.19 L244.48,362.47 L244.55,363.80 L244.48,365.13 L244.28,366.41 L243.96,367.59 L243.53,368.60 L243.00,369.43" fill="none" stroke="#1e1e1e" stroke-width="1.50" stroke-linecap="round" stroke-linejoin="round" opacity="1.0"/>
<path d="M81.55,166.87 L91.65,169.25 L91.65,165.22 M90.11,162.36 L89.73,162.26 L89.39,162.09 L89.10,161.85 L88.89,161.56 L88.76,161.23 L88.72,160.88 L88.78,160.54 L88.93,160.22 L89.16,159.94 L89.45,159.71 L89.81,159.55 L90.19,159.47 L90.59,159.47 L90.98,159.55 L95.18,162.39 L95.18,159.34 M81.29,147.21 L82.07,147.74 L83.03,148.17 L84.13,148.50 L85.34,148.70 L86.60,148.76 L87.86,148.70 L89.07,148.50 L90.17,148.17 L91.13,147.74 L91.91,147.21 M81.55,140.71 L91.65,143.09 L91.65,139.06 M90.14,136.11 L88.72,134.47 L95.18,134.47 M81.29,132.10 L82.07,131.57 L83.03,131.14 L84.13,130.82 L85.34,130.62 L86.60,130.55 L87.86,130.62 L89.07,130.82 L90.17,131.14 L91.13,131.57 L91.91,132.10" fill="none" stroke="#1e1e1e" stroke-width="1.50" stroke-linecap="round" stroke-linejoin="round" opacity="1.0"/>
<path d="M118.77,189.05 L118.23,188.99 L117.72,188.83 L117.26,188.56 L116.88,188.20 L116.59,187.77 L116.41,187.29 L116.35,186.79 L116.41,186.29 L116.59,185.81 L116.88,185.38 L117.26,185.02 L117.72,184.75 L118.23,184.58 L118.77,184.53 L124.03,184.53 L124.57,184.58 L125.08,184.75 L125.54,185.02 L125.92,185.38 L126.21,185.81 L126.39,186.29 L126.45,186.79 L126.39,187.29 L126.21,187.77 L125.92,188.20 L125.54,188.56 L125.08,188.83 L124.57,188.99 L124.03,189.05 L118.77,189.05 M125.44,182.17 L128.47,182.74 M116.35,177.55 L116.35,173.60 L120.19,176.14 L120.00,175.87 L120.06,175.18 L120.42,174.54 L121.03,174.00 L121.85,173.62 L122.80,173.43 L123.78,173.44 L124.71,173.66 L125.50,174.07 L126.08,174.63 L126.40,175.28 L126.42,175.97 L126.15,176.63 L125.60,177.20 L124.83,177.63 M116.35,169.26 L116.35,165.31 L120.19,167.85 L120.00,167.58 L120.06,166.89 L120.42,166.25 L121.03,165.71 L121.85,165.33 L122.80,165.14 L123.78,165.15 L124.71,165.37 L125.50,165.78 L126.08,166.33 L126.40,166.99 L126.42,167.67 L126.15,168.33 L125.60,168.91 L124.83,169.34 M116.35,151.64 L126.45,154.09 L126.45,149.95 M124.91,147.00 L124.53,146.90 L124.19,146.72 L123.90,146.47 L123.69,146.17 L123.56,145.83 L123.52,145.48 L123.58,145.13 L123.73,144.80 L123.96,144.51 L124.25,144.27 L124.61,144.11 L124.99,144.02 L125.39,144.02 L125.78,144.10 L129.98,147.03 L129.98,143.89 M116.09,131.41 L116.87,131.95 L117.83,132.39 L118.93,132.73 L120.14,132.93 L121.40,133.00 L122.66,132.93 L123.87,132.73 L124.97,132.39 L125.93,131.95 L126.71,131.41 M116.35,124.71 L126.45,127.16 L126.45,123.01 M124.94,119.97 L123.52,118.28 L129.98,118.28 M116.09,115.84 L116.87,115.30 L117.83,114.86 L118.93,114.52 L120.14,114.32 L121.40,114.25 L122.66,114.32 L123.87,114.52 L124.97,114.86 L125.93,115.30 L126.71,115.84" fill="none" stroke="#1e1e1e" stroke-width="1.50" stroke-linecap="round" stroke-linejoin="round" opacity="1.0"/>
<path d="M276.48,556.68 L279.79,554.77 L279.79,563.42 M282.15,556.85 L282.23,556.39 L282.44,555.95 L282.77,555.56 L283.22,555.23 L283.76,554.98 L284.36,554.83 L284.99,554.77 L285.63,554.83 L286.23,554.98 L286.76,555.23 L287.21,555.56 L287.55,555.95 L287.76,556.39 L287.83,556.85 L287.83,561.35 L287.76,561.81 L287.55,562.25 L287.21,562.64 L286.76,562.97 L286.23,563.22 L285.63,563.37 L284.99,563.42 L284.36,563.37 L283.76,563.22 L283.22,562.97 L282.77,562.64 L282.44,562.25 L282.23,561.81 L282.15,561.35 L282.15,556.85 M289.85,556.85 L289.92,556.39 L290.13,555.95 L290.47,555.56 L290.91,555.23 L291.45,554.98 L292.05,554.83 L292.69,554.77 L293.32,554.83 L293.92,554.98 L294.46,555.23 L294.91,555.56 L295.24,555.95 L295.45,556.39 L295.52,556.85 L295.52,561.35 L295.45,561.81 L295.24,562.25 L294.91,562.64 L294.46,562.97 L293.92,563.22 L293.32,563.37 L292.69,563.42 L292.05,563.37 L291.45,563.22 L290.91,562.97 L290.47,562.64 L290.13,562.25 L289.92,561.81 L289.85,561.35 L289.85,556.85" fill="none" stroke="#1e1e1e" stroke-width="1.75" stroke-linecap="round" stroke-linejoin="round" opacity="1.0"/>
<path d="M633.17,56.13 L636.33,54.08 L636.33,63.42 M638.59,56.32 L638.65,55.82 L638.85,55.35 L639.18,54.92 L639.60,54.56 L640.12,54.30 L640.69,54.13 L641.29,54.08 L641.89,54.13 L642.47,54.30 L642.98,54.56 L643.41,54.92 L643.73,55.35 L643.93,55.82 L644.00,56.32 L644.00,61.18 L643.93,61.68 L643.73,62.15 L643.41,62.58 L642.98,62.94 L642.47,63.20 L641.89,63.37 L641.29,63.42 L640.69,63.37 L640.12,63.20 L639.60,62.94 L639.18,62.58 L638.85,62.15 L638.65,61.68 L638.59,61.18 L638.59,56.32 M645.91,56.32 L645.98,55.82 L646.18,55.35 L646.50,54.92 L646.93,54.56 L647.45,54.30 L648.02,54.13 L648.62,54.08 L649.22,54.13 L649.79,54.30 L650.31,54.56 L650.73,54.92 L651.06,55.35 L651.26,55.82 L651.33,56.32 L651.33,61.18 L651.26,61.68 L651.06,62.15 L650.73,62.58 L650.31,62.94 L649.79,63.20 L649.22,63.37 L648.62,63.42 L648.02,63.37 L647.45,63.20 L646.93,62.94 L646.50,62.58 L646.18,62.15 L645.98,61.68 L645.91,61.18 L645.91,56.32" fill="none" stroke="#1e1e1e" stroke-width="1.75" stroke-linecap="round" stroke-linejoin="round" opacity="1.0"/>
<path d="M627.37,299.57 L622.19,299.57 L621.67,303.64 L622.46,303.52 L623.50,303.08 L624.64,302.99 L625.76,303.24 L626.71,303.81 L627.40,304.64 L627.74,305.62 L627.68,306.66 L627.25,307.61 L626.48,308.38 L625.47,308.87 L624.33,309.02 L623.20,308.83 L622.21,308.31 L621.48,307.51 M629.71,301.84 L629.78,301.34 L630.01,300.86 L630.38,300.43 L630.88,300.07 L631.47,299.80 L632.12,299.63 L632.82,299.57 L633.51,299.63 L634.16,299.80 L634.75,300.07 L635.25,300.43 L635.62,300.86 L635.85,301.34 L635.92,301.84 L635.92,306.76 L635.85,307.26 L635.62,307.74 L635.25,308.17 L634.75,308.53 L634.16,308.80 L633.51,308.97 L632.82,309.02 L632.12,308.97 L631.47,308.80 L630.88,308.53 L630.38,308.17 L630.01,307.74 L629.78,307.26 L629.71,306.76 L629.71,301.84" fill="none" stroke="#1e1e1e" stroke-width="1.75" stroke-linecap="round" stroke-linejoin="round" opacity="1.0"/>
<path d="M548.35,370.05 L548.35,375.15 L552.69,375.66 L552.57,374.88 L552.10,373.86 L552.00,372.74 L552.26,371.64 L552.88,370.70 L553.76,370.03 L554.82,369.70 L555.92,369.75 L556.94,370.18 L557.76,370.93 L558.28,371.93 L558.45,373.04 L558.24,374.15 L557.68,375.13 L556.83,375.85 M550.77,367.76 L550.23,367.69 L549.72,367.46 L549.26,367.10 L548.88,366.61 L548.59,366.03 L548.41,365.39 L548.35,364.71 L548.41,364.03 L548.59,363.38 L548.88,362.80 L549.26,362.32 L549.72,361.95 L550.23,361.73 L550.77,361.65 L556.03,361.65 L556.57,361.73 L557.08,361.95 L557.54,362.32 L557.92,362.80 L558.21,363.38 L558.39,364.03 L558.45,364.71 L558.39,365.39 L558.21,366.03 L557.92,366.61 L557.54,367.10 L557.08,367.46 L556.57,367.69 L556.03,367.76 L550.77,367.76" fill="none" stroke="#1e1e1e" stroke-width="1.75" stroke-linecap="round" stroke-linejoin="round" opacity="1.0"/>
<path d="M271.97,581.99 L272.14,581.68 L272.37,581.40 L272.66,581.18 L273.00,581.00 L273.37,580.89 L273.75,580.85 L274.14,580.88 L274.51,580.97 L274.86,581.13 L275.16,581.34 L275.41,581.61 L275.60,581.91 L275.71,582.24 L275.75,582.58 L275.75,587.35 M275.75,584.53 L273.62,584.53 L273.62,584.53 L273.23,584.57 L272.85,584.67 L272.52,584.84 L272.24,585.06 L272.03,585.33 L271.89,585.63 L271.85,585.94 L271.89,586.25 L272.03,586.55 L272.24,586.82 L272.52,587.04 L272.85,587.21 L273.23,587.31 L273.62,587.35 L275.75,586.70" fill="none" stroke="#1e1e1e" stroke-width="1.70" stroke-linecap="round" stroke-linejoin="round" opacity="1.0"/>
<path d="M564.65,426.85 L564.65,434.05 M568.55,431.89 L568.36,432.83 L567.82,433.58 L567.03,434.00 L566.17,434.00 L565.38,433.58 L564.84,432.83 L564.65,431.89 L564.84,430.95 L565.38,430.20 L566.17,429.78 L567.03,429.78 L567.82,430.20 L568.36,430.95 L568.55,431.89" fill="none" stroke="#1e1e1e" stroke-width="1.70" stroke-linecap="round" stroke-linejoin="round" opacity="1.0"/>
<path d="M556.00,165.22 L555.43,164.64 L554.72,164.40 L553.99,164.54 L553.37,165.02 L552.95,165.79 L552.80,166.70 L552.95,167.61 L553.37,168.38 L553.99,168.86 L554.72,169.00 L555.43,168.76 L556.00,168.18" fill="none" stroke="#1e1e1e" stroke-width="1.60" stroke-linecap="round" stroke-linejoin="round" opacity="1.0"/>
<path d="M89.12,476.68 L89.12,483.73 M89.12,481.61 L88.93,482.53 L88.40,483.26 L87.63,483.67 L86.77,483.67 L86.00,483.26 L85.47,482.53 L85.28,481.61 L85.47,480.69 L86.00,479.96 L86.77,479.55 L87.63,479.55 L88.40,479.96 L88.93,480.69 L89.12,481.61" fill="none" stroke="#1e1e1e" stroke-width="1.75" stroke-linecap="round" stroke-linejoin="round" opacity="1.0"/>
<path d="M195.47,532.62 L196.84,536.85 M200.70,532.30 L193.20,543.20" fill="none" stroke="#1e1e1e" stroke-width="1.60" stroke-linecap="round" stroke-linejoin="round" opacity="1.0"/>
<path d="M289.78,533.11 L291.09,537.27 M294.80,532.80 L287.60,543.50" fill="none" stroke="#1e1e1e" stroke-width="1.60" stroke-linecap="round" stroke-linejoin="round" opacity="1.0"/>
<path d="M355.13,534.63 L356.53,539.06 M360.50,534.30 L352.80,545.70" fill="none" stroke="#1e1e1e" stroke-width="1.60" stroke-linecap="round" stroke-linejoin="round" opacity="1.0"/>
<path d="M577.97,486.86 L574.77,486.86 L574.77,482.38 L577.84,482.38 L577.84,482.38 L578.47,482.43 L579.06,482.60 L579.60,482.86 L580.04,483.22 L580.38,483.65 L580.59,484.12 L580.66,484.62 L580.59,485.12 L580.38,485.59 L580.04,486.02 L579.60,486.37 L579.06,486.64 L578.47,486.81 L577.84,486.86 M577.97,486.86 L578.23,486.86 L578.94,486.92 L579.62,487.10 L580.22,487.39 L580.73,487.78 L581.11,488.24 L581.34,488.75 L581.42,489.29 L581.34,489.83 L581.11,490.35 L580.73,490.81 L580.22,491.19 L579.62,491.48 L578.94,491.66 L578.23,491.73 L574.77,491.73 L574.77,486.86" fill="none" stroke="#1e1e1e" stroke-width="1.75" stroke-linecap="round" stroke-linejoin="round" opacity="1.0"/>
<path d="M636.62,483.77 L636.37,483.34 L636.06,482.98 L635.70,482.69 L635.29,482.49 L634.87,482.38 L634.43,482.38 L634.00,482.46 L633.59,482.65 L633.22,482.92 L632.90,483.27 L632.63,483.68 L632.44,484.15 L632.32,484.65 L632.27,485.18 L632.27,488.92 L632.32,489.45 L632.44,489.95 L632.63,490.42 L632.90,490.83 L633.22,491.18 L633.59,491.45 L634.00,491.64 L634.43,491.73 L634.87,491.72 L635.29,491.61 L635.70,491.41 L636.06,491.12 L636.37,490.76 L636.62,490.33" fill="none" stroke="#1e1e1e" stroke-width="1.75" stroke-linecap="round" stroke-linejoin="round" opacity="1.0"/>
<path d="M693.62,482.38 L688.88,482.38 L688.88,491.73 M688.88,487.05 L692.83,487.05" fill="none" stroke="#1e1e1e" stroke-width="1.75" stroke-linecap="round" stroke-linejoin="round" opacity="1.0"/>
<path d="M573.88,615.92 L577.45,605.58 L581.02,615.92 M575.16,612.20 L579.74,612.20" fill="none" stroke="#1e1e1e" stroke-width="1.75" stroke-linecap="round" stroke-linejoin="round" opacity="1.0"/>
<path d="M632.77,605.58 L632.77,615.92 L635.83,615.92 L635.83,615.92 L636.27,615.91 L636.70,615.85 L637.12,615.76 L637.52,615.64 L637.90,615.48 L638.26,615.29 L638.59,615.08 L638.88,614.83 L639.13,614.57 L639.34,614.28 L639.51,613.98 L639.63,613.67 L639.70,613.35 L639.73,613.03 L639.73,608.47 L639.70,608.15 L639.63,607.83 L639.51,607.52 L639.34,607.22 L639.13,606.93 L638.88,606.67 L638.59,606.42 L638.26,606.21 L637.90,606.02 L637.52,605.86 L637.12,605.74 L636.70,605.65 L636.27,605.59 L635.83,605.58 L632.77,605.58" fill="none" stroke="#1e1e1e" stroke-width="1.75" stroke-linecap="round" stroke-linejoin="round" opacity="1.0"/>
<path d="M695.42,605.58 L689.67,605.58 L689.67,615.92 L695.42,615.92 M689.67,610.75 L694.47,610.75" fill="none" stroke="#1e1e1e" stroke-width="1.75" stroke-linecap="round" stroke-linejoin="round" opacity="1.0"/>
<path d="M563.08,541.67 L563.08,550.12" fill="none" stroke="#1e1e1e" stroke-width="1.75" stroke-linecap="round" stroke-linejoin="round" opacity="1.0"/>
<path d="M709.12,544.22 L708.84,543.77 L708.44,543.38 L707.94,543.05 L707.37,542.80 L706.74,542.64 L706.08,542.58 L705.42,542.61 L704.79,542.75 L704.20,542.98 L703.68,543.29 L703.25,543.67 L702.94,544.11 L702.74,544.58 L702.67,545.08 L702.67,549.02 L702.76,549.58 L703.00,550.11 L703.40,550.58 L703.93,550.98 L704.56,551.28 L705.26,551.46 L706.00,551.52 L706.74,551.46 L707.44,551.28 L708.07,550.98 L708.60,550.58 L709.00,550.11 L709.24,549.58 L709.33,549.02 L709.33,547.05 L706.48,547.05" fill="none" stroke="#1e1e1e" stroke-width="1.75" stroke-linecap="round" stroke-linejoin="round" opacity="1.0"/>
<path d="M631.27,530.48 L631.27,538.92 M638.42,530.48 L638.42,538.92 M631.27,534.70 L638.42,534.70" fill="none" stroke="#1e1e1e" stroke-width="1.75" stroke-linecap="round" stroke-linejoin="round" opacity="1.0"/>
<path d="M702.20,75.60 L696.41,68.19 L698.69,66.41 L698.69,66.41 L699.16,66.12 L699.68,65.94 L700.22,65.87 L700.75,65.92 L701.26,66.09 L701.71,66.37 L702.08,66.75 L702.35,67.20 L702.51,67.70 L702.56,68.23 L702.48,68.77 L702.28,69.27 L701.98,69.73 L701.58,70.12 L699.31,71.90 M701.42,70.25 L706.42,72.30 M704.02,64.81 L703.82,64.27 L703.77,63.68 L703.86,63.08 L704.08,62.51 L704.44,61.99 L704.90,61.56 L705.45,61.24 L706.04,61.05 L706.66,60.99 L707.25,61.08 L707.80,61.30 L708.26,61.65 L708.62,62.10 L708.85,62.64 L708.53,70.66 L712.92,67.23" fill="none" stroke="#1e1e1e" stroke-width="1.60" stroke-linecap="round" stroke-linejoin="round" opacity="1.0"/>
<text x="625.8" y="50.4" font-family="Liberation Serif" font-size="16.8" fill="#2a2a2a" textLength="188.4" lengthAdjust="spacing" stroke="#2a2a2a" stroke-width="0.2">Dimensions in millimetres</text></svg></body></html>
